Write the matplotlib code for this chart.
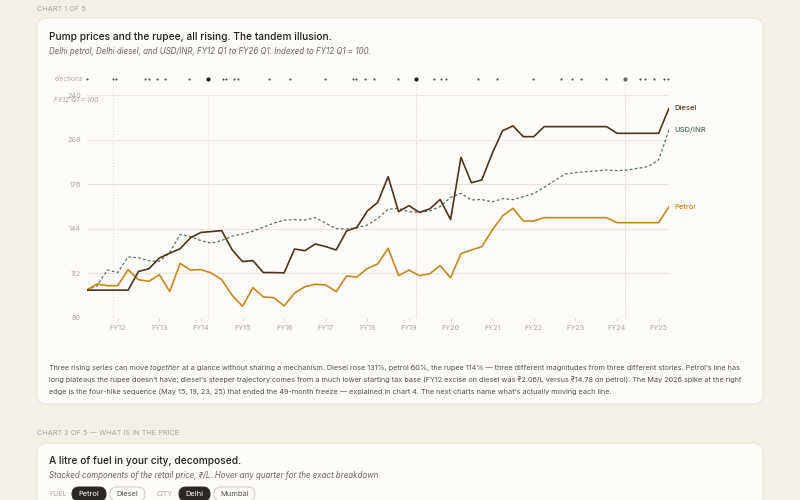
import matplotlib
matplotlib.use("Agg")
import matplotlib.pyplot as plt
from matplotlib.patches import FancyBboxPatch
import numpy as np

plt.rcParams["font.family"] = ["Inter", "DejaVu Sans"]

W, H = 800, 500

# ---------------------------------------------------------------------------
# Data (index, FY12 Q1 = 100), one value per quarter FY12 Q1 .. FY26 Q1
# ---------------------------------------------------------------------------
quarters = [f"FY{12 + i // 4} Q{i % 4 + 1}" for i in range(57)]

diesel = [100, 100, 100, 100, 100, 113.4, 115.3, 123, 126.5, 129.7,
          137.6, 141.4, 142, 142.7, 128.9, 120.5, 121.2, 112.6, 112.6, 112.4,
          129.5, 128.3, 133.1, 131.2, 128.8, 142.4, 145.1, 156.8, 163, 181.4,
          156.3, 160.6, 155.8, 158.3, 165, 150.6, 195.3, 177.1, 179, 198,
          214.4, 217.8, 210.1, 210.1, 217.3, 217.3, 217.3, 217.3, 217.3, 217.3,
          217.3, 212.5, 212.5, 212.5, 212.5, 212.5, 230.5]

petrol = [100, 104.4, 103.2, 103.2, 114.7, 107.5, 106.3, 111.1, 99.1, 119.2,
          114.4, 114.7, 112.3, 107.5, 96.3, 88.4, 101.8, 95.1, 94.6, 88.7,
          97.8, 102.5, 104.2, 103.7, 98.9, 110.1, 109.4, 115.6, 118.8, 130,
          110.4, 114.4, 110.4, 111.8, 117.6, 108.9, 126.2, 128.8, 131.2, 143,
          153.3, 158.7, 149.6, 149.6, 152, 152, 152, 152, 152, 152,
          152, 148.4, 148.4, 148.4, 148.4, 148.4, 159.9]

usd_inr = [100, 103, 114.5, 112.6, 123.8, 123.3, 121, 120.6, 127, 140,
           138.4, 135.5, 133.6, 135.6, 138.8, 140.3, 142.3, 145.2, 148, 150.2,
           150.6, 150.3, 152, 148, 144.1, 143.9, 144.6, 146.7, 151.5, 158,
           158.7, 156.3, 155.8, 156.8, 159.9, 166.5, 169.5, 164.7, 165, 163.3,
           165.6, 164.9, 167.1, 169.3, 173.8, 178.5, 183.3, 184.3, 185, 185.5,
           186.2, 185.7, 186.2, 187.4, 188.6, 193.4, 214.9]

fy_labels = [f"FY{y}" for y in range(12, 26)]
fy_tick_pos = [3 + 4 * k for k in range(len(fy_labels))]

# election dates in quarter units from FY12 Q1 (general elections flagged)
elections = [0.0, 2.5, 2.8, 5.6, 6.0, 6.8, 7.5, 9.9, 11.65, 13.15, 13.4,
             14.2, 14.6, 17.5, 19.6, 22.9, 25.6, 25.9, 26.8, 27.6, 29.9, 31.7,
             33.4, 34.1, 34.6, 37.6, 39.5, 42.9, 45.6, 46.7, 47.5, 49.9, 51.8,
             53.2, 53.7, 54.6, 55.5, 55.9]
general_elections = [11.65, 31.7, 51.8]
marker_lines = [2.5, 31.7, 51.8]

# ---------------------------------------------------------------------------
PAGE = "#f3f0e8"
CARD = "#fdfcf8"
DIESEL_C = "#4a3420"
PETROL_C = "#c8871e"
USD_C = "#5b6f63"
GRID_C = "#ebe7de"
MUTED = "#a9a59c"


def fx(x):
    return x / W


def fy(y):
    return 1 - y / H


fig = plt.figure(figsize=(8, 5), dpi=100, facecolor=PAGE)

# cards
for top, bottom in [(18, 404), (443, 520)]:
    card = FancyBboxPatch((fx(37), fy(bottom)), fx(763) - fx(37), fy(top) - fy(bottom),
                          boxstyle="round,pad=0,rounding_size=0.012",
                          transform=fig.transFigure, facecolor=CARD,
                          edgecolor="#e6e2d8", linewidth=0.8, mutation_aspect=1.6,
                          zorder=-1)
    fig.patches.append(card)

fig.text(fx(37), fy(9), "CHART 1 OF 5", fontsize=5.3, color=MUTED, va="center")
fig.text(fx(49), fy(37), "Pump prices and the rupee, all rising. The tandem illusion.",
         fontsize=7.3, color="#1f1f1f", fontweight="medium", va="center")
fig.text(fx(49), fy(52), "Delhi petrol, Delhi diesel, and USD/INR, FY12 Q1 to FY26 Q1. "
         "Indexed to FY12 Q1 = 100.", fontsize=5.7, color="#6b6862",
         style="italic", va="center")

# ---------------------------------------------------------------------------
# main axes
# ---------------------------------------------------------------------------
ax = fig.add_axes([fx(86.5), fy(318), fx(669) - fx(86.5), fy(95) - fy(318)])
ax.set_facecolor("none")
ax.set_zorder(2)
x = np.arange(len(quarters))
ax.set_xlim(0, len(quarters) - 1)
ax.set_ylim(80, 240)

for s in ax.spines.values():
    s.set_visible(False)
ax.set_yticks([80, 112, 144, 176, 208, 240])
ax.tick_params(axis="y", length=0, pad=4, labelsize=5.3, labelcolor=MUTED)
ax.set_xticks(fy_tick_pos)
ax.set_xticklabels(fy_labels)
ax.tick_params(axis="x", length=2.5, width=0.6, color="#d8d4ca", pad=2.5,
               labelsize=5.3, labelcolor=MUTED)
ax.grid(axis="y", color=GRID_C, linewidth=0.8)
ax.set_axisbelow(True)

xt = ax.get_xaxis_transform()
for e in general_elections:
    ax.axvline(e, color="#f5f2eb", linewidth=0.8, zorder=0)
for m in marker_lines:
    ax.axvline(m, ymin=0, ymax=1.06, color="#cfcbc1", linewidth=0.6,
               linestyle=(0, (1, 2.5)), clip_on=False, zorder=0)

ax.plot(x, usd_inr, color=USD_C, linewidth=0.9, linestyle=(0, (2.2, 1.8)), zorder=2)
ax.plot(x, petrol, color=PETROL_C, linewidth=1.2, zorder=3)
ax.plot(x, diesel, color=DIESEL_C, linewidth=1.2, zorder=4)

for vals, name, col in [(diesel, "Diesel", "#5e4128"), (usd_inr, "USD/INR", "#55705f"),
                        (petrol, "Petrol", PETROL_C)]:
    ax.annotate(name, (x[-1], vals[-1]), xytext=(4, 0), textcoords="offset points",
                fontsize=5.5, color=col, va="center", ha="left", fontweight="medium")

# elections strip
ey = (318 - 79) / (318 - 95)
small = [e for e in elections if e not in general_elections]
ax.scatter(small, [ey] * len(small), s=2.2, color="#4a4a4a", transform=xt,
           clip_on=False, linewidths=0)
ax.scatter(general_elections[:2], [ey] * 2, s=9, color="#1e1e1e", transform=xt,
           clip_on=False, linewidths=0)
ax.scatter(general_elections[2:], [ey], s=9, color="#6a6a6a", transform=xt,
           clip_on=False, linewidths=0)
fig.text(fx(83), fy(79), "elections", fontsize=4.8, color=MUTED, style="italic",
         ha="right", va="center")
fig.text(fx(54), fy(100), "FY12 Q1 = 100", fontsize=4.8, color=MUTED, style="italic",
         ha="left", va="center")

# ---------------------------------------------------------------------------
# caption
# ---------------------------------------------------------------------------
cap_kw = dict(fontsize=5.25, color="#55524c", va="center")
renderer = fig.canvas.get_renderer()
x0 = fx(49)
parts = [("Three rising series can move", "normal"), (" together", "italic"),
         (" at a glance without sharing a mechanism. Diesel rose 131%, petrol 60%, "
          "the rupee 114% \u2014 three different magnitudes from three different "
          "stories. Petrol\u2019s line has", "normal")]
for txt, st in parts:
    t = fig.text(x0, fy(368), txt, style=st, **cap_kw)
    bb = t.get_window_extent(renderer)
    x0 += bb.width / W
fig.text(fx(49), fy(380), "long plateaus the rupee doesn\u2019t have; diesel\u2019s steeper "
         "trajectory comes from a much lower starting tax base (FY12 excise on diesel was "
         "\u20b92.06/L versus \u20b914.78 on petrol). The May 2026 spike at the right",
         **cap_kw)
fig.text(fx(49), fy(392), "edge is the four-hike sequence (May 15, 19, 23, 25) that ended "
         "the 49-month freeze \u2014 explained in chart 4. The next charts name what\u2019s "
         "actually moving each line.", **cap_kw)

# ---------------------------------------------------------------------------
# next chart header
# ---------------------------------------------------------------------------
fig.text(fx(37), fy(433), "CHART 2 OF 5 \u2014 WHAT IS IN THE PRICE", fontsize=5.3,
         color=MUTED, va="center")
fig.text(fx(49), fy(461), "A litre of fuel in your city, decomposed.", fontsize=7.3,
         color="#1f1f1f", fontweight="medium", va="center")
fig.text(fx(49), fy(475), "Stacked components of the retail price, \u20b9/L. Hover any "
         "quarter for the exact breakdown.", fontsize=5.7, color="#6b6862",
         style="italic", va="center")

fig.text(fx(49), fy(494), "FUEL", fontsize=5, color=MUTED, va="center")
fig.text(fx(157), fy(494), "CITY", fontsize=5, color=MUTED, va="center")
pills = [("Petrol", 72, 106, True), ("Diesel", 110, 145, False),
         ("Delhi", 179, 210, True), ("Mumbai", 214, 255, False)]
for label, left, right, active in pills:
    p = FancyBboxPatch((fx(left), fy(501)), fx(right) - fx(left), fy(487) - fy(501),
                       boxstyle="round,pad=0,rounding_size=0.0087",
                       transform=fig.transFigure, mutation_aspect=1.6,
                       facecolor="#2b2824" if active else CARD,
                       edgecolor="#2b2824" if active else "#cfcbc2", linewidth=0.7)
    fig.patches.append(p)
    fig.text(fx((left + right) / 2), fy(494), label, fontsize=5.4,
             color="white" if active else "#55524c", ha="center", va="center")

fig.savefig("out.png", dpi=100, facecolor=PAGE)
